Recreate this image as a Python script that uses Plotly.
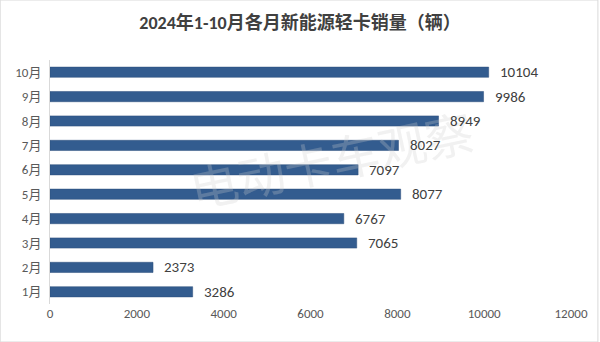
import plotly.graph_objects as go

months = ["1月", "2月", "3月", "4月", "5月", "6月", "7月", "8月", "9月", "10月"]
sales = [3286, 2373, 7065, 6767, 8077, 7097, 8027, 8949, 9986, 10104]
tick_vals = [0, 2000, 4000, 6000, 8000, 10000, 12000]
tick_text = ["0", "2000", "4000", "6000", "8000", "10000", "12000"]
title_text = "2024年1-10月各月新能源轻卡销量（辆）"
watermark = "电动卡车观察"

font_family = "Calibri, Carlito, 'Open Sans', 'Noto Sans CJK SC', sans-serif"

fig = go.Figure(go.Bar(
    x=sales, y=months, orientation="h",
    marker=dict(color="#335C8F", line=dict(color="#2A4D7A", width=0.5)),
))

labels = [dict(x=v, y=m, text=str(v), xref="x", yref="y", xanchor="left",
               xshift=9, showarrow=False,
               font=dict(size=15, color="#404040", family=font_family))
          for m, v in zip(months, sales)]

fig.update_layout(
    width=600, height=342,
    margin=dict(l=50, r=27, t=60, b=38),
    paper_bgcolor="white", plot_bgcolor="white",
    bargap=0.58,
    title=dict(text="<b>" + title_text + "</b>", x=0.5, xanchor="center",
               y=0.935, yanchor="middle",
               font=dict(size=18, color="#404040", family=font_family)),
    xaxis=dict(range=[0, 12000], tickvals=tick_vals, ticktext=tick_text,
               showgrid=False, zeroline=False,
               showline=False, ticks="",
               tickfont=dict(size=13, color="#595959", family=font_family)),
    yaxis=dict(showgrid=False, zeroline=False, showline=True, linecolor="#D9D9D9",
               linewidth=1, ticks="", ticklabelstandoff=5,
               tickfont=dict(size=13, color="#595959", family=font_family)),
    showlegend=False,
    shapes=[dict(type="rect", xref="paper", yref="paper", x0=-50/523, x1=1+27/523,
                 y0=-38/244, y1=1+60/244, line=dict(color="#D9D9D9", width=1))],
    annotations=[dict(text=watermark, xref="paper", yref="paper", x=0.54, y=0.6,
                      showarrow=False, textangle=-12,
                      font=dict(size=48, color="rgba(205,205,205,0.28)",
                                family="'Noto Sans CJK SC', sans-serif"))] + labels,
)

fig.write_html("out.html")
